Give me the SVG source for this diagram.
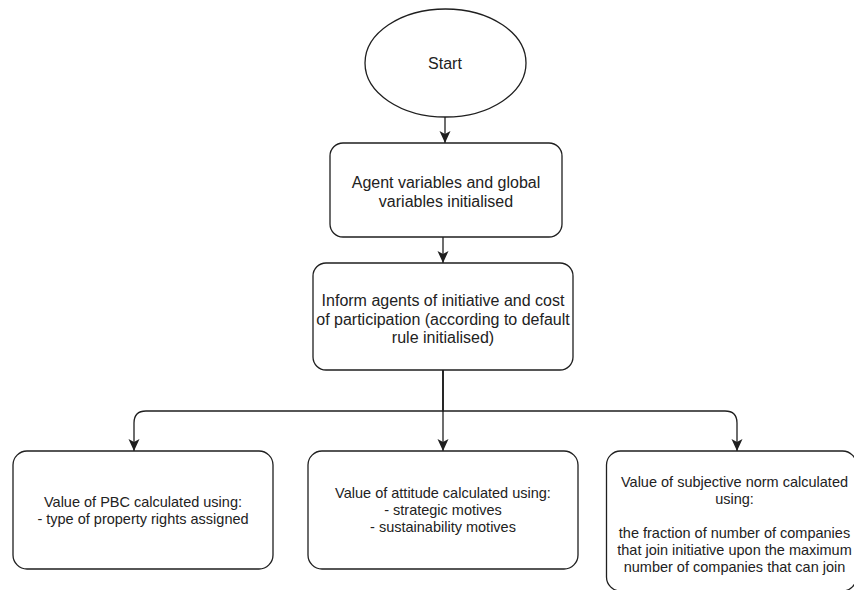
<svg xmlns="http://www.w3.org/2000/svg" width="854" height="590" viewBox="0 0 854 590">
  <defs>
    <style>
      .shape { fill: #ffffff; stroke: #1f1f1f; stroke-width: 1.3; }
      .edge { fill: none; stroke: #1f1f1f; stroke-width: 1.3; }
      .lbl { font-family: "Liberation Sans", Arial, sans-serif; fill: #222222; text-anchor: middle; }
      .big { font-size: 16px; }
      .small { font-size: 14.5px; }
    </style>
    <marker id="arrow" markerUnits="userSpaceOnUse" viewBox="0 0 12 12" markerWidth="12" markerHeight="12" refX="12" refY="6" orient="auto">
      <path d="M0,0.5 L12,6 L0,11.5 L3,6 z" fill="#1f1f1f"/>
    </marker>
  </defs>

  <rect width="854" height="590" fill="#ffffff"/>

  <!-- connectors -->
  <g id="connectors">
    <path class="edge" d="M445,117 V143" marker-end="url(#arrow)"/>
    <path class="edge" d="M443,237 V263" marker-end="url(#arrow)"/>
    <path class="edge" d="M443,370 V451" marker-end="url(#arrow)"/>
    <path class="edge" d="M443,370 V411 H146 Q134,411 134,423 V451" marker-end="url(#arrow)"/>
    <path class="edge" d="M443,370 V411 H725 Q737,411 737,423 V451" marker-end="url(#arrow)"/>
  </g>

  <!-- start terminal -->
  <g id="start">
    <ellipse class="shape" cx="445.5" cy="63" rx="80.5" ry="54"/>
    <text class="lbl big" x="445" y="69">Start</text>
  </g>

  <!-- initialisation -->
  <g id="init">
    <rect class="shape" x="330" y="143" width="232" height="94" rx="13"/>
    <text class="lbl big" x="446" y="188">Agent variables and global</text>
    <text class="lbl big" x="446" y="206.5">variables initialised</text>
  </g>

  <!-- inform agents -->
  <g id="inform">
    <rect class="shape" x="313" y="263" width="260" height="107" rx="13"/>
    <text class="lbl big" x="443" y="306">Inform agents of initiative and cost</text>
    <text class="lbl big" x="443" y="324.5">of participation (according to default</text>
    <text class="lbl big" x="443" y="343">rule initialised)</text>
  </g>

  <!-- PBC -->
  <g id="pbc">
    <rect class="shape" x="13" y="451" width="260" height="118" rx="14"/>
    <text class="lbl small" x="143" y="507">Value of PBC calculated using:</text>
    <text class="lbl small" x="143" y="524">- type of property rights assigned</text>
  </g>

  <!-- attitude -->
  <g id="attitude">
    <rect class="shape" x="308" y="451" width="270" height="118" rx="14"/>
    <text class="lbl small" x="443" y="498">Value of attitude calculated using:</text>
    <text class="lbl small" x="443" y="515">- strategic motives</text>
    <text class="lbl small" x="443" y="532">- sustainability motives</text>
  </g>

  <!-- subjective norm -->
  <g id="norm">
    <rect class="shape" x="606.5" y="451" width="250" height="140" rx="14"/>
    <text class="lbl small" x="734.5" y="487">Value of subjective norm calculated</text>
    <text class="lbl small" x="734.5" y="504">using:</text>
    <text class="lbl small" x="734.5" y="538">the fraction of number of companies</text>
    <text class="lbl small" x="734.5" y="555">that join initiative upon the maximum</text>
    <text class="lbl small" x="734.5" y="572">number of companies that can join</text>
  </g>
</svg>
